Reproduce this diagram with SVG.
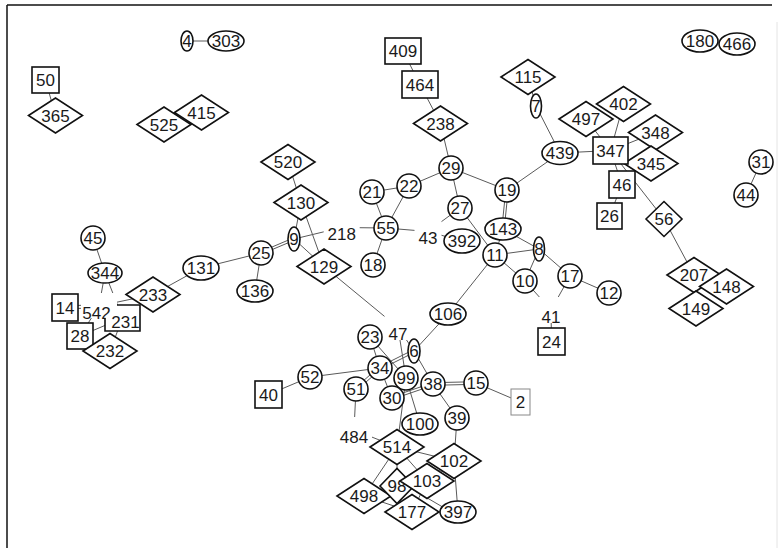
<svg xmlns="http://www.w3.org/2000/svg" width="781" height="548" viewBox="0 0 781 548">
<style>
.n{fill:#fff;stroke:#111;stroke-width:1.6}
.g{fill:#fff;stroke:#888;stroke-width:1}
.b{fill:#fff;stroke:none}
.e line{stroke:#5a5a5a;stroke-width:1}
text{font-family:"Liberation Sans",Arial,sans-serif;font-size:17px;fill:#1a1a1a;text-anchor:middle}
.f{stroke:#111;stroke-width:1.5}
</style>
<rect x="0" y="0" width="781" height="548" fill="#fff"/>
<line class="f" x1="7" y1="5" x2="772" y2="5"/>
<line class="f" x1="7" y1="5" x2="7" y2="548"/>
<line x1="777" y1="22" x2="777" y2="548" stroke="#e4e4e4" stroke-width="1"/>
<g id="edges" class="e">
<line x1="187" y1="41" x2="226" y2="41"/>
<line x1="45.5" y1="80" x2="55.5" y2="115.5"/>
<line x1="403" y1="51" x2="420" y2="84.5"/>
<line x1="420" y1="84.5" x2="440.5" y2="123.5"/>
<line x1="440.5" y1="123.5" x2="451" y2="168"/>
<line x1="288" y1="162" x2="301" y2="202.5"/>
<line x1="451" y1="168" x2="409" y2="186"/>
<line x1="451" y1="168" x2="507" y2="190"/>
<line x1="451" y1="168" x2="460" y2="208"/>
<line x1="372" y1="192" x2="409" y2="186"/>
<line x1="372" y1="192" x2="386" y2="228"/>
<line x1="409" y1="186" x2="386" y2="228"/>
<line x1="386" y1="228" x2="373" y2="265"/>
<line x1="386" y1="228" x2="341.7" y2="227.5"/>
<line x1="386" y1="228" x2="428" y2="231.5"/>
<line x1="341.7" y1="227.5" x2="294" y2="239"/>
<line x1="293.5" y1="237.9" x2="260.5" y2="251.9"/>
<line x1="294.5" y1="240.1" x2="261.5" y2="254.1"/>
<line x1="301" y1="202.5" x2="294" y2="239"/>
<line x1="301" y1="202.5" x2="324" y2="266.5"/>
<line x1="294" y1="239" x2="324" y2="266.5"/>
<line x1="324" y1="266.5" x2="398" y2="327.5"/>
<line x1="261" y1="253" x2="201" y2="268"/>
<line x1="261" y1="253" x2="255" y2="291"/>
<line x1="201" y1="268" x2="153" y2="294.5"/>
<line x1="153" y1="294.5" x2="99" y2="306"/>
<line x1="93" y1="238" x2="105" y2="273"/>
<line x1="105" y1="273" x2="99" y2="306"/>
<line x1="105" y1="273" x2="122.5" y2="318"/>
<line x1="65" y1="305.8" x2="99" y2="304.8"/>
<line x1="65" y1="308.8" x2="99" y2="307.8"/>
<line x1="99" y1="306" x2="80" y2="336"/>
<line x1="80" y1="336" x2="122.5" y2="318"/>
<line x1="122.5" y1="318" x2="110" y2="351"/>
<line x1="528" y1="77" x2="536" y2="106"/>
<line x1="536" y1="106" x2="560" y2="153"/>
<line x1="560" y1="153" x2="507" y2="190"/>
<line x1="560" y1="153" x2="610.5" y2="150.5"/>
<line x1="586" y1="119" x2="610.5" y2="150.5"/>
<line x1="623.5" y1="104" x2="610.5" y2="150.5"/>
<line x1="655.5" y1="132.5" x2="610.5" y2="150.5"/>
<line x1="610.5" y1="150.5" x2="622" y2="184.5"/>
<line x1="610.5" y1="150.5" x2="664" y2="219"/>
<line x1="622" y1="184.5" x2="609.5" y2="216"/>
<line x1="664" y1="219" x2="694" y2="275"/>
<line x1="761" y1="162" x2="746" y2="195"/>
<line x1="505.8" y1="189.9" x2="501.8" y2="228.9"/>
<line x1="508.2" y1="190.1" x2="504.2" y2="229.1"/>
<line x1="460" y1="208" x2="495" y2="255"/>
<line x1="460" y1="208" x2="428" y2="231.5"/>
<line x1="428" y1="231.5" x2="462" y2="241"/>
<line x1="503" y1="229" x2="495" y2="255"/>
<line x1="503" y1="229" x2="539" y2="249"/>
<line x1="495" y1="255" x2="539" y2="249"/>
<line x1="495" y1="255" x2="525" y2="281"/>
<line x1="539" y1="249" x2="525" y2="281"/>
<line x1="539" y1="249" x2="570" y2="276"/>
<line x1="570" y1="276" x2="609" y2="293"/>
<line x1="570" y1="276" x2="551" y2="310"/>
<line x1="525" y1="281" x2="551" y2="310"/>
<line x1="551" y1="310" x2="551.5" y2="341.5"/>
<line x1="495" y1="255" x2="448" y2="314"/>
<line x1="448" y1="314" x2="414" y2="351"/>
<line x1="398" y1="327.5" x2="414" y2="351"/>
<line x1="398" y1="327.5" x2="406" y2="378"/>
<line x1="370" y1="337" x2="380" y2="368"/>
<line x1="370" y1="337" x2="406" y2="378"/>
<line x1="413.4" y1="349.8" x2="379.4" y2="366.8"/>
<line x1="414.6" y1="352.2" x2="380.6" y2="369.2"/>
<line x1="414" y1="351" x2="433" y2="384"/>
<line x1="310" y1="377" x2="380" y2="368"/>
<line x1="268.5" y1="394.5" x2="310" y2="377"/>
<line x1="356.9" y1="390" x2="380.9" y2="369"/>
<line x1="355.1" y1="388" x2="379.1" y2="367"/>
<line x1="356" y1="389" x2="354" y2="430"/>
<line x1="380" y1="368" x2="392" y2="398"/>
<line x1="392.4" y1="399.2" x2="433.4" y2="385.2"/>
<line x1="391.6" y1="396.8" x2="432.6" y2="382.8"/>
<line x1="406" y1="378" x2="420" y2="424"/>
<line x1="433" y1="382.7" x2="476" y2="381.7"/>
<line x1="433" y1="385.3" x2="476" y2="384.3"/>
<line x1="476" y1="383" x2="520.5" y2="402"/>
<line x1="433" y1="384" x2="457" y2="418"/>
<line x1="457" y1="418" x2="454" y2="461"/>
<line x1="406" y1="378" x2="397" y2="447"/>
<line x1="354" y1="430" x2="397" y2="447"/>
<line x1="397" y1="447" x2="454" y2="461"/>
<line x1="397" y1="447" x2="427" y2="481"/>
<line x1="397" y1="447" x2="364" y2="496"/>
<line x1="397" y1="447" x2="397" y2="486"/>
<line x1="364" y1="496" x2="412" y2="512"/>
<line x1="453.2" y1="460" x2="426.2" y2="480"/>
<line x1="454.8" y1="462" x2="427.8" y2="482"/>
<line x1="454" y1="461" x2="458" y2="512"/>
<line x1="427" y1="481" x2="412" y2="512"/>
<line x1="400" y1="482" x2="458" y2="516"/>
</g>
<g id="n4"><ellipse class="n" cx="187" cy="41" rx="6" ry="10"/><text x="187" y="47">4</text></g>
<g id="n303"><ellipse class="n" cx="226" cy="41" rx="18" ry="10"/><text x="226" y="47">303</text></g>
<g id="n180"><ellipse class="n" cx="700" cy="41" rx="18" ry="11"/><text x="700" y="47">180</text></g>
<g id="n466"><ellipse class="n" cx="737" cy="44" rx="18" ry="11"/><text x="737" y="50">466</text></g>
<g id="n50"><rect class="n" x="32" y="67" width="27" height="26"/><text x="45.5" y="86">50</text></g>
<g id="n365"><polygon class="n" points="28.5,115.5 55.5,98 82.5,115.5 55.5,133"/><text x="55.5" y="121.5">365</text></g>
<g id="n525"><polygon class="n" points="137,124.5 164,107 191,124.5 164,142"/><text x="164" y="130.5">525</text></g>
<g id="n415"><polygon class="n" points="174.5,112.5 201.5,95 228.5,112.5 201.5,130"/><text x="201.5" y="118.5">415</text></g>
<g id="n409"><rect class="n" x="385" y="38" width="36" height="26"/><text x="403" y="57">409</text></g>
<g id="n464"><rect class="n" x="402" y="71" width="36" height="27"/><text x="420" y="90.5">464</text></g>
<g id="n238"><polygon class="n" points="413.5,123.5 440.5,106 467.5,123.5 440.5,141"/><text x="440.5" y="129.5">238</text></g>
<g id="n520"><polygon class="n" points="261,162 288,144.5 315,162 288,179.5"/><text x="288" y="168">520</text></g>
<g id="n115"><polygon class="n" points="501,77 528,59.5 555,77 528,94.5"/><text x="528" y="83">115</text></g>
<g id="n7"><ellipse class="n" cx="536" cy="106" rx="5.5" ry="12"/><text x="536" y="112">7</text></g>
<g id="n439"><ellipse class="n" cx="560" cy="153" rx="18" ry="11.5"/><text x="560" y="159">439</text></g>
<g id="n497"><polygon class="n" points="559,119 586,101.5 613,119 586,136.5"/><text x="586" y="125">497</text></g>
<g id="n402"><polygon class="n" points="596.5,104 623.5,86.5 650.5,104 623.5,121.5"/><text x="623.5" y="110">402</text></g>
<g id="n348"><polygon class="n" points="628.5,132.5 655.5,115 682.5,132.5 655.5,150"/><text x="655.5" y="138.5">348</text></g>
<g id="n345"><polygon class="n" points="624,163.5 651,146 678,163.5 651,181"/><text x="651" y="169.5">345</text></g>
<g id="n347"><rect class="n" x="593" y="137" width="35" height="27"/><text x="610.5" y="156.5">347</text></g>
<g id="n46"><rect class="n" x="609" y="171" width="26" height="27"/><text x="622" y="190.5">46</text></g>
<g id="n26"><rect class="n" x="597" y="203" width="25" height="26"/><text x="609.5" y="222">26</text></g>
<g id="n31"><circle class="n" cx="761" cy="162" r="12"/><text x="761" y="168">31</text></g>
<g id="n44"><circle class="n" cx="746" cy="195" r="12"/><text x="746" y="201">44</text></g>
<g id="n56"><polygon class="n" points="646,219 664,201.5 682,219 664,236.5"/><text x="664" y="225">56</text></g>
<g id="n207"><polygon class="n" points="667,275 694,257.5 721,275 694,292.5"/><text x="694" y="281">207</text></g>
<g id="n149"><polygon class="n" points="669,308.5 696,291 723,308.5 696,326"/><text x="696" y="314.5">149</text></g>
<g id="n148"><polygon class="n" points="699.5,286.5 726.5,269 753.5,286.5 726.5,304"/><text x="726.5" y="292.5">148</text></g>
<g id="n29"><circle class="n" cx="451" cy="168" r="12"/><text x="451" y="174">29</text></g>
<g id="n21"><circle class="n" cx="372" cy="192" r="12"/><text x="372" y="198">21</text></g>
<g id="n22"><circle class="n" cx="409" cy="186" r="12"/><text x="409" y="192">22</text></g>
<g id="n19"><circle class="n" cx="507" cy="190" r="12"/><text x="507" y="196">19</text></g>
<g id="n27"><circle class="n" cx="460" cy="208" r="12"/><text x="460" y="214">27</text></g>
<g id="n55"><circle class="n" cx="386" cy="228" r="12"/><text x="386" y="234">55</text></g>
<g id="n18"><circle class="n" cx="373" cy="265" r="12"/><text x="373" y="271">18</text></g>
<g id="n143"><ellipse class="n" cx="503" cy="229" rx="18" ry="11"/><text x="503" y="235">143</text></g>
<g id="n392"><ellipse class="n" cx="462" cy="241" rx="18" ry="12"/><text x="462" y="247">392</text></g>
<g id="n11"><circle class="n" cx="495" cy="255" r="12"/><text x="495" y="261">11</text></g>
<g id="n8"><ellipse class="n" cx="539" cy="249" rx="5.5" ry="12"/><text x="539" y="255">8</text></g>
<g id="n10"><circle class="n" cx="525" cy="281" r="12"/><text x="525" y="287">10</text></g>
<g id="n17"><circle class="n" cx="570" cy="276" r="12"/><text x="570" y="282">17</text></g>
<g id="n12"><circle class="n" cx="609" cy="293" r="12"/><text x="609" y="299">12</text></g>
<g id="n41"><rect class="b" x="537.5" y="297" width="27" height="26"/><text x="551" y="322.7">41</text></g>
<g id="n24"><rect class="n" x="538" y="328" width="27" height="27"/><text x="551.5" y="347.5">24</text></g>
<g id="n43"><rect class="b" x="414.5" y="218" width="27" height="26"/><text x="428" y="244">43</text></g>
<g id="n218"><rect class="b" x="323.7" y="214" width="36" height="26"/><text x="341.7" y="240">218</text></g>
<g id="n130"><polygon class="n" points="274,202.5 301,185 328,202.5 301,220"/><text x="301" y="208.5">130</text></g>
<g id="n129"><polygon class="n" points="297,266.5 324,249 351,266.5 324,284"/><text x="324" y="272.5">129</text></g>
<g id="n9"><ellipse class="n" cx="294" cy="239" rx="6" ry="12"/><text x="294" y="245">9</text></g>
<g id="n25"><circle class="n" cx="261" cy="253" r="12"/><text x="261" y="259">25</text></g>
<g id="n136"><ellipse class="n" cx="255" cy="291" rx="18" ry="11"/><text x="255" y="297">136</text></g>
<g id="n131"><ellipse class="n" cx="201" cy="268" rx="18" ry="12"/><text x="201" y="274">131</text></g>
<g id="n45"><circle class="n" cx="93" cy="238" r="12"/><text x="93" y="244">45</text></g>
<g id="n344"><ellipse class="n" cx="105" cy="273" rx="17" ry="10"/><text x="105" y="279">344</text></g>
<g id="n233"><polygon class="n" points="126,294.5 153,277 180,294.5 153,312"/><text x="153" y="300.5">233</text></g>
<g id="n14"><rect class="n" x="52" y="294" width="26" height="27"/><text x="65" y="313.5">14</text></g>
<g id="n28"><rect class="n" x="67" y="323" width="26" height="26"/><text x="80" y="342">28</text></g>
<g id="n542"><rect class="b" x="81" y="293" width="36" height="25"/><text x="96.5" y="319">542</text></g>
<g id="n231"><path class="n" d="M117,305 H140 V331 H105 V318"/><text x="125.5" y="328">231</text></g>
<g id="n232"><polygon class="n" points="83,351 110,333.5 137,351 110,368.5"/><text x="110" y="357">232</text></g>
<g id="n106"><ellipse class="n" cx="448" cy="314" rx="18" ry="11"/><text x="448" y="320">106</text></g>
<g id="n47"><rect class="b" x="384.5" y="314" width="27" height="26"/><text x="398" y="340">47</text></g>
<g id="n23"><circle class="n" cx="370" cy="337" r="12"/><text x="370" y="343">23</text></g>
<g id="n6"><ellipse class="n" cx="414" cy="351" rx="6" ry="12"/><text x="414" y="357">6</text></g>
<g id="n34"><circle class="n" cx="380" cy="368" r="12"/><text x="380" y="374">34</text></g>
<g id="n99"><circle class="n" cx="406" cy="378" r="12"/><text x="406" y="384">99</text></g>
<g id="n38"><circle class="n" cx="433" cy="384" r="12"/><text x="433" y="390">38</text></g>
<g id="n15"><circle class="n" cx="476" cy="383" r="12"/><text x="476" y="389">15</text></g>
<g id="n2"><rect class="g" x="511" y="389" width="19" height="26"/><text x="520.5" y="408">2</text></g>
<g id="n51"><circle class="n" cx="356" cy="389" r="12"/><text x="356" y="395">51</text></g>
<g id="n30"><circle class="n" cx="392" cy="398" r="12"/><text x="392" y="404">30</text></g>
<g id="n52"><circle class="n" cx="310" cy="377" r="12"/><text x="310" y="383">52</text></g>
<g id="n40"><rect class="n" x="255" y="381" width="27" height="27"/><text x="268.5" y="400.5">40</text></g>
<g id="n100"><ellipse class="n" cx="420" cy="424" rx="18" ry="11"/><text x="420" y="430">100</text></g>
<g id="n39"><circle class="n" cx="457" cy="418" r="12"/><text x="457" y="424">39</text></g>
<g id="n484"><rect class="b" x="336" y="417" width="36" height="26"/><text x="354" y="442.7">484</text></g>
<g id="n514"><polygon class="n" points="370,447 397,429.5 424,447 397,464.5"/><text x="397" y="453">514</text></g>
<g id="n102"><polygon class="n" points="427,461 454,443.5 481,461 454,478.5"/><text x="454" y="467">102</text></g>
<g id="n498"><polygon class="n" points="337,496 364,478.5 391,496 364,513.5"/><text x="364" y="502">498</text></g>
<g id="n98"><polygon class="n" points="380,486 397,468.5 414,486 397,503.5"/><text x="397" y="492">98</text></g>
<g id="n103"><polygon class="n" points="400,481 427,463.5 454,481 427,498.5"/><text x="427" y="487">103</text></g>
<g id="n177"><polygon class="n" points="385,512 412,494.5 439,512 412,529.5"/><text x="412" y="518">177</text></g>
<g id="n397"><ellipse class="n" cx="458" cy="512" rx="18" ry="11"/><text x="458" y="518">397</text></g>
</svg>
